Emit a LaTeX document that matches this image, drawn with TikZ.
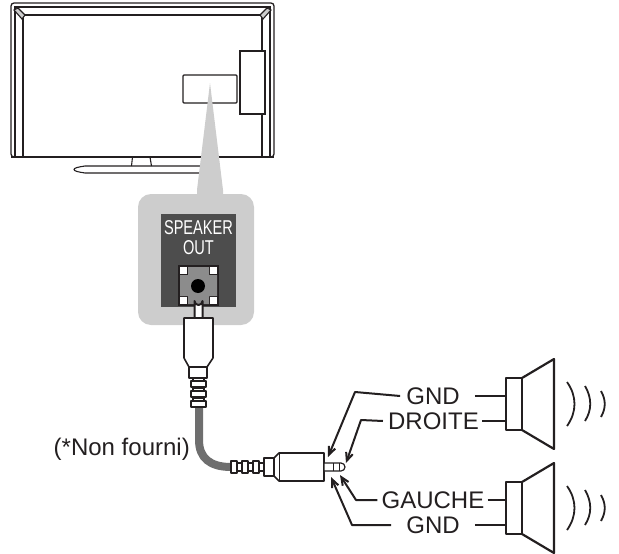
\documentclass[tikz,border=0pt]{standalone}
\usepackage{fontspec}
\setmainfont{Liberation Sans}
\usetikzlibrary{arrows.meta}
\definecolor{inkblack}{RGB}{35,31,32}
\definecolor{panelgray}{RGB}{205,205,205}
\definecolor{darkgray}{RGB}{77,77,77}
\definecolor{socketgray}{RGB}{140,140,140}
\definecolor{cablegray}{RGB}{110,110,110}
\tikzset{
    tvline/.style={draw=inkblack, line width=1.1pt},
    plugline/.style={draw=inkblack, fill=white, line width=1.6pt, line join=round},
    leader/.style={draw=inkblack, line width=2pt, line join=round, -{Straight Barb[length=8pt,width=7pt,line width=2pt]}},
    wire/.style={draw=inkblack, line width=2pt},
    spkline/.style={draw=inkblack, line width=2.2pt, line join=round},
    wave/.style={draw=inkblack, line width=1.8pt},
    pinlabel/.style={font=\fontsize{24}{24}\selectfont, text=inkblack, inner sep=0pt}
}
\begin{document}
\begin{tikzpicture}[x=1pt, y=-1pt]
    \useasboundingbox (0,0) rectangle (619,554);

    % TV
    \draw[tvline, line width=1.3pt, rounded corners=3pt] (11,3) rectangle (274,157);
    \draw[tvline] (15,157) -- (15,7) -- (270,7) -- (270,157);
    \draw[tvline] (23,157) -- (23,15) -- (262,15) -- (262,157);
    \draw[tvline, line width=1.8pt] (11,157) -- (274,157);
    \draw[tvline, fill=panelgray] (14,10) -- (18,8) -- (25,15) -- (22,19) -- cycle;
    \draw[tvline, fill=panelgray] (271,10) -- (267,8) -- (260,15) -- (263,19) -- cycle;
    \draw[tvline, fill=white] (240,51) rectangle (265,114);
    \draw[tvline, fill=white, rounded corners=1pt] (183,75) rectangle (237,103);

    % Stand
    \draw[tvline] (132.5,157) -- (131.5,166) (150,157) -- (151.5,166);
    \draw[tvline] (200,166) -- (85,166) .. controls (78,167) and (74,168) .. (74,169.5)
        .. controls (74,171) and (78,172) .. (85,173) -- (200,173);

    % Panel
    \fill[panelgray] (210,83) -- (223,190) -- (223,200) -- (197,200) -- (197,190) -- cycle;
    \fill[panelgray, rounded corners=13pt] (138,194) rectangle (254,325);
    \fill[darkgray] (161,214) rectangle (236,307);
    \node[font=\fontsize{20}{20}\selectfont, text=white, align=center, xscale=0.73, inner sep=0pt] (speakerout) at (198.5,238) {SPEAKER\\OUT};

    % Socket
    \fill[inkblack] (178,265) rectangle (219,306);
    \fill[socketgray] (180,275) -- (188,275) -- (188,267) -- (209,267) -- (209,275) -- (217,275)
        -- (217,296) -- (209,296) -- (209,304) -- (188,304) -- (188,296) -- (180,296) -- cycle;
    \foreach \px/\py in {180/267, 210/267, 180/297, 210/297} {
        \fill[white] (\px,\py) rectangle ++(7,7);
    }
    \fill[black] (198,286) circle (7);

    % Plug on the socket
    \draw[plugline, line width=2pt] (194.5,318) -- (194.5,301) arc[start angle=180, end angle=0, radius=4] -- (202.5,318) -- cycle;
    \draw[plugline] (184,318) -- (213,318) -- (213,358) -- (207,367) -- (189,367) -- (184,358) -- cycle;
    \draw[plugline] (189,367) rectangle (207,378);
    \foreach \sy in {378,388,398} {
        \draw[plugline] (193,\sy) rectangle (204,\sy+3);
        \draw[plugline] (191,\sy+3) rectangle (206,\sy+9);
    }

    % Cable
    \draw[cablegray, line width=8pt] (199,408) -- (199,440) .. controls (199,458) and (210,467) .. (231,467);

    % Jack
    \foreach \sx in {231,242,253} {
        \draw[plugline] (\sx,461) rectangle (\sx+6,473);
        \draw[plugline] (\sx+6,463) rectangle (\sx+11,471);
    }
    \draw[plugline] (264,458) rectangle (274,476);
    \draw[plugline] (274,458) -- (279,453) -- (324,453) -- (324,481) -- (279,481) -- (274,476) -- cycle;
    \draw[inkblack, line width=0.8pt] (279,453) -- (279,481);
    \draw[plugline, line width=1.2pt] (324,463) -- (341,463) arc[start angle=-90, end angle=90, radius=4] -- (324,471) -- cycle;
    \draw[inkblack, line width=1pt] (333,463) -- (333,471) (339,463) -- (339,471);

    % Labels
    \node[pinlabel] (gndright) at (433,396) {GND};
    \node[pinlabel] (droite) at (433.5,421) {DROITE};
    \node[pinlabel] (gauche) at (433,500) {GAUCHE};
    \node[pinlabel] (gndleft) at (433,525) {GND};
    \node[pinlabel, anchor=east] (nonfourni) at (190,449) {(*Non fourni)};

    % Pin points
    \coordinate (sleeveup) at (328,457);
    \coordinate (tipup) at (346,463);
    \coordinate (tipdown) at (340,475);
    \coordinate (sleevedown) at (331,477);

    % Leaders
    \draw[leader] ([xshift=-6pt]gndright.west) -- (355,392) -- (sleeveup);
    \draw[leader] ([xshift=-5pt]droite.west) -- (361,420) -- (tipup);
    \draw[leader] ([xshift=-4pt]gauche.west) -- (356,500) -- (tipdown);
    \draw[leader] ([xshift=-15pt]gndleft.west) -- (352,525) -- (sleevedown);

    % Speakers
    \foreach \dy in {0,104} {
        \draw[spkline] (506,378+\dy) rectangle (522,430+\dy);
        \draw[spkline] (522,378+\dy) -- (554,359+\dy) -- (554,449+\dy) -- (522,430+\dy);
        \draw[wave] (567,382+\dy) .. controls (577,396+\dy) and (577,412+\dy) .. (567,426+\dy);
        \draw[wave] (585,386+\dy) .. controls (592,398+\dy) and (592,410+\dy) .. (585,421+\dy);
        \draw[wave] (601,391+\dy) .. controls (606,400+\dy) and (606,408+\dy) .. (601,417+\dy);
    }
    \coordinate (spkrgnd) at (506,395);
    \coordinate (spkrsig) at (506,417);
    \coordinate (spklsig) at (506,500);
    \coordinate (spklgnd) at (506,524);

    % Speaker wires
    \draw[wire] ([xshift=15pt]gndright.east) -- (gndright.east -| spkrgnd);
    \draw[wire] ([xshift=3pt]droite.east) -- (droite.east -| spkrsig);
    \draw[wire] ([xshift=3pt]gauche.east) -- (gauche.east -| spklsig);
    \draw[wire] ([xshift=15pt]gndleft.east) -- (gndleft.east -| spklgnd);
\end{tikzpicture}
\end{document}
